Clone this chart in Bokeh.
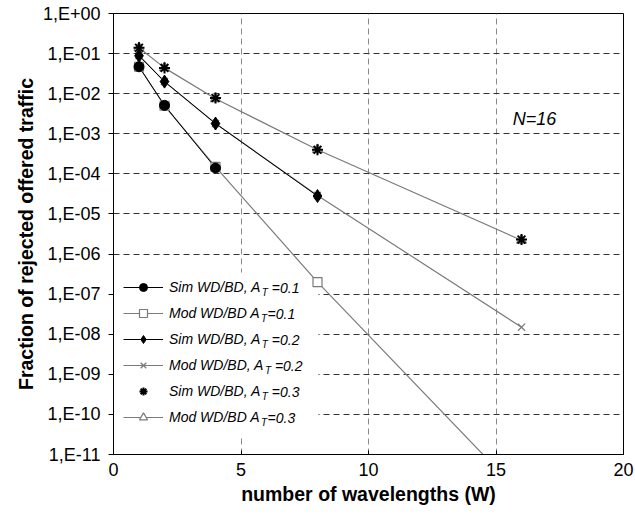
import math
from bokeh.plotting import figure
from bokeh.models import (Legend, LegendItem, Label, FixedTicker, CustomJSTickFormatter,
                          BoxAnnotation, Title)
from bokeh.embed import file_html
from bokeh.resources import INLINE

# ---------------- data ----------------
W = [1, 2, 4, 8, 16]
W_sim01 = [1, 2, 4]
sim_01 = [4.7e-2, 5.1e-3, 1.4e-4]
mod_01 = [4.7e-2, 5.0e-3, 1.5e-4, 2.0e-7, 1.0e-12]
W_sim02 = [1, 2, 4, 8]
sim_02 = [8.8e-2, 2.0e-2, 1.8e-3, 2.8e-5]
mod_02 = [9.0e-2, 2.0e-2, 1.8e-3, 2.9e-5, 1.5e-8]
sim_03 = [1.4e-1, 4.4e-2, 7.8e-3, 4.0e-4, 2.3e-6]
mod_03 = [1.4e-1, 4.4e-2, 7.5e-3, 4.0e-4, 2.2e-6]

x_ticks = [0, 5, 10, 15, 20]
y_ticks = [1.0, 1e-1, 1e-2, 1e-3, 1e-4, 1e-5, 1e-6, 1e-7, 1e-8, 1e-9, 1e-10, 1e-11]

legend_names = ["Sim WD/BD, A", "Mod WD/BD A", "Sim WD/BD, A",
                "Mod WD/BD, A", "Sim WD/BD, A", "Mod WD/BD A"]
legend_sub = "T"
legend_tails = ["=0.1", "=0.1", "=0.2", "=0.2", "=0.3", "=0.3"]
legend_tail_space = [True, False, True, True, True, False]
annotation = "N=16"
x_label = "number of wavelengths (W)"
y_label = "Fraction of rejected offered traffic"

FONT = "Liberation Sans"
SIM = "#000000"
MOD = "#7a7a7a"

p = figure(x_range=(0, 20), y_range=(1e-11, 1), y_axis_type="log",
           frame_width=510, frame_height=441,
           min_border_left=113, min_border_right=12,
           min_border_top=13, min_border_bottom=66,
           output_backend="svg", toolbar_location=None)
p.background_fill_color = "white"
p.border_fill_color = "white"
p.outline_line_color = "black"
p.outline_line_width = 1

# grids
p.ygrid.grid_line_color = "#333333"
p.ygrid.grid_line_dash = "6 4"
p.ygrid.grid_line_width = 1
p.xgrid.grid_line_color = "#8a8a8a"
p.xgrid.grid_line_dash = "6 4"
p.xgrid.grid_line_width = 1

# axes
p.xaxis.ticker = FixedTicker(ticks=x_ticks)
p.yaxis.ticker = FixedTicker(ticks=y_ticks)
p.yaxis.formatter = CustomJSTickFormatter(code="""
const e = Math.round(Math.log10(tick));
const a = Math.abs(e);
return "1,E" + (e < 0 ? "-" : "+") + (a < 10 ? "0" + a : "" + a);
""")
for ax in (p.xaxis[0], p.yaxis[0]):
    ax.axis_line_color = "black"
    ax.major_tick_line_color = "black"
    ax.minor_tick_line_color = None
    ax.major_label_text_font = FONT
    ax.major_label_text_font_size = "18px"
    ax.major_label_text_color = "black"
p.yaxis.major_tick_out = 5
p.yaxis.major_tick_in = 0
p.yaxis.major_label_standoff = 8
p.xaxis.major_tick_out = 0
p.xaxis.major_tick_in = 4
p.xaxis.major_label_standoff = 8

# axis titles
p.add_layout(Title(text=y_label, align="center", standoff=6,
                   text_font=FONT, text_font_style="bold", text_font_size="19.5px",
                   text_color="black"), "left")
p.add_layout(Title(text=x_label, align="center", standoff=4,
                   text_font=FONT, text_font_style="bold", text_font_size="19.5px",
                   text_color="black"), "below")

# white legend area (above grid, below data)
p.add_layout(BoxAnnotation(left=0, right=205, bottom=18, top=182,
                           left_units="screen", right_units="screen",
                           bottom_units="screen", top_units="screen",
                           fill_color="white", fill_alpha=1.0, line_color=None,
                           level="underlay"))

# lines
l_m01 = p.line(W, mod_01, line_color=MOD, line_width=1.2)
l_m02 = p.line(W, mod_02, line_color=MOD, line_width=1.2)
l_m03 = p.line(W, mod_03, line_color=MOD, line_width=1.2)
l_s01 = p.line(W_sim01, sim_01, line_color=SIM, line_width=1)
l_s02 = p.line(W_sim02, sim_02, line_color=SIM, line_width=1)

# markers
m_m01 = p.scatter(W, mod_01, marker="square", size=9, line_color=MOD, fill_color="white", line_width=1.2)
m_m02 = p.scatter(W, mod_02, marker="x", size=10, line_color=MOD, line_width=1.3)
m_m03 = p.scatter(W, mod_03, marker="triangle", size=10, line_color=MOD, fill_color="white", line_width=1.2)
m_s01 = p.scatter(W_sim01, sim_01, marker="circle", size=10, line_color=SIM, fill_color=SIM)
m_s02 = p.scatter(W_sim02, sim_02, marker="diamond", size=13, line_color=SIM, fill_color=SIM)
m_s03 = p.scatter(W, sim_03, marker="asterisk", size=11, line_color=SIM, line_width=2)

renderer_sets = [[l_s01, m_s01], [l_m01, m_m01], [l_s02, m_s02],
                 [l_m02, m_m02], [m_s03], [l_m03, m_m03]]

# legend
LEG_X, LEG_Y, GLYPH_W, ITEM_H, SPACING, STANDOFF = 10, 27, 40, 20, 6, 6
legend = Legend(items=[LegendItem(label=n, renderers=r) for n, r in zip(legend_names, renderer_sets)],
                location=(LEG_X, LEG_Y), padding=0, spacing=SPACING,
                glyph_width=GLYPH_W, glyph_height=ITEM_H, label_height=ITEM_H,
                label_standoff=STANDOFF, label_width=20,
                label_text_font=FONT, label_text_font_style="italic",
                label_text_font_size="14px", label_text_color="black",
                background_fill_alpha=0.0, border_line_color=None, margin=0)
p.add_layout(legend)

# Arial / Liberation Sans advance widths (per 1000 em)
AW = {"S": 667, "i": 222, "m": 833, " ": 278, "W": 944, "D": 722, "/": 278, "B": 667,
      ",": 278, "A": 667, "M": 833, "o": 556, "d": 556, "T": 611}


def text_w(s, size):
    return sum(AW.get(c, 556) for c in s) * size / 1000.0


text_x0 = LEG_X + GLYPH_W + STANDOFF
n_items = len(legend_names)
for i, (name, tail, sp) in enumerate(zip(legend_names, legend_tails, legend_tail_space)):
    yc = LEG_Y + (n_items - 1 - i) * (ITEM_H + SPACING) + ITEM_H / 2
    tx = text_x0 + text_w(name, 14) + 0.5
    p.add_layout(Label(x=tx, y=yc - 5, x_units="screen", y_units="screen", text=legend_sub,
                       text_font=FONT, text_font_style="italic", text_font_size="10px",
                       text_baseline="middle", text_align="left", text_color="black",
                       level="overlay"))
    rx = tx + text_w("T", 10) + (text_w(" ", 14) if sp else 0.5)
    p.add_layout(Label(x=rx, y=yc, x_units="screen", y_units="screen", text=tail,
                       text_font=FONT, text_font_style="italic", text_font_size="14px",
                       text_baseline="middle", text_align="left", text_color="black",
                       level="overlay"))

p.add_layout(Label(x=421, y=336, x_units="screen", y_units="screen", text=annotation,
                   text_font=FONT, text_font_style="italic", text_font_size="18px",
                   text_baseline="middle", text_align="center", text_color="black",
                   level="overlay"))

open("out.html", "w").write(file_html(p, INLINE))
